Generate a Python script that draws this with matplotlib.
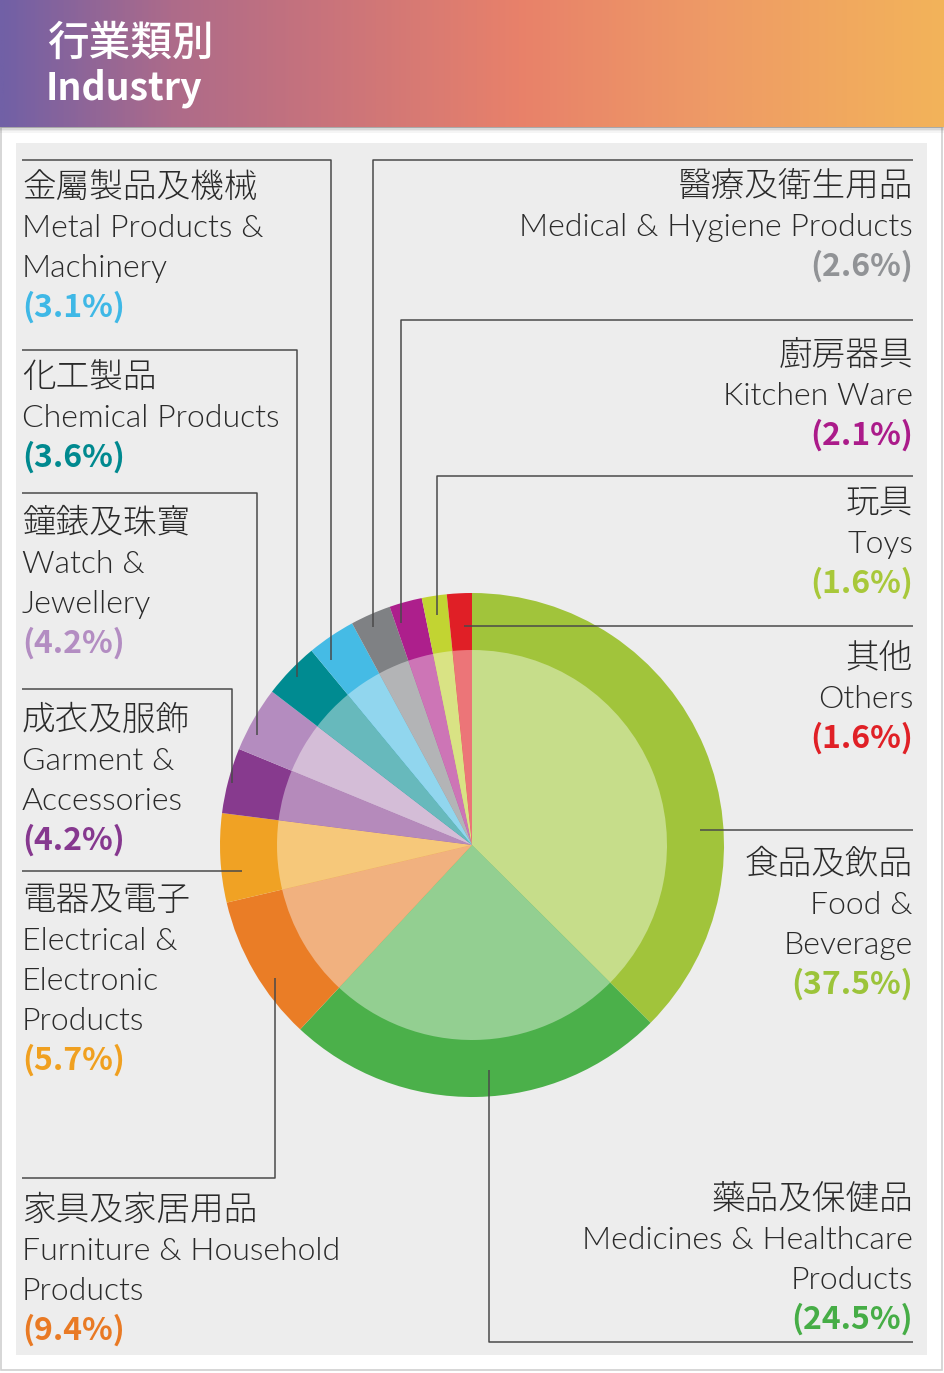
import numpy as np
import matplotlib
matplotlib.use('Agg')
import matplotlib.pyplot as plt
from matplotlib.colors import LinearSegmentedColormap
from matplotlib.patches import Rectangle

plt.rcParams['font.family'] = ['Noto Sans CJK TC', 'DejaVu Sans']
LATIN = ['Lato', 'Noto Sans CJK TC']
CJK_JP = ['Noto Sans CJK JP', 'Noto Sans CJK TC']

W, H = 944, 1373

# data, clockwise from 12 o'clock
names_zh = ['食品及飲品', '藥品及保健品', '家具及家居用品', '電器及電子', '成衣及服飾',
            '鐘錶及珠寶', '化工製品', '金屬製品及機械', '醫療及衛生用品', '廚房器具', '玩具', '其他']
names_en = [['Food &', 'Beverage'], ['Medicines & Healthcare', 'Products'],
            ['Furniture & Household', 'Products'], ['Electrical &', 'Electronic', 'Products'],
            ['Garment &', 'Accessories'], ['Watch &', 'Jewellery'], ['Chemical Products'],
            ['Metal Products &', 'Machinery'], ['Medical & Hygiene Products'], ['Kitchen Ware'],
            ['Toys'], ['Others']]
shares = [37.5, 24.5, 9.4, 5.7, 4.2, 4.2, 3.6, 3.1, 2.6, 2.1, 1.6, 1.6]
outer_colors = ['#a1c43b', '#4bb04a', '#ea7d26', '#f0a224', '#873a8e', '#b48cbf',
                '#008b91', '#45bbe5', '#7f8184', '#ad1f8c', '#c2d432', '#e01f26']
inner_colors = ['#c6dd8a', '#93cf91', '#f1b17f', '#f6c87a', '#b58abb', '#d4bdd7',
                '#67b9bc', '#91d6ee', '#b3b4b6', '#cd75b6', '#d9e384', '#ec7578']
pct_colors = ['#9cc43a', '#46ad46', '#e97a24', '#f0a020', '#86388f', '#b38dc2',
              '#00898f', '#3fb8e6', '#919396', '#ab1b8a', '#a8c83a', '#e02026']

def Y(y):
    return H - y

fig = plt.figure(figsize=(W / 100, H / 100), dpi=100)
ax = fig.add_axes([0, 0, 1, 1])

# header gradient
cmap = LinearSegmentedColormap.from_list('hdr', [(0.0, '#7160a6'), (0.18, '#ad6b8a'),
                                                 (0.34, '#c8737c'), (0.55, '#e8816a'),
                                                 (0.75, '#ee9a66'), (1.0, '#f3b35a')])
grad = np.linspace(0, 1, 400).reshape(1, -1)
ax.imshow(grad, cmap=cmap, aspect='auto', extent=[0, W, Y(127), Y(0)], zorder=2)
for i, a in enumerate([0.35, 0.22, 0.12, 0.06]):
    ax.add_patch(Rectangle((0, Y(128 + i * 1.5)), W, 1.5, color='#555555', alpha=a, lw=0, zorder=2))

# frame and panel
ax.add_patch(Rectangle((1, Y(1370)), W - 3, 1370 - 127, fill=False, ec='#d0d0d0', lw=1.2, zorder=1))
ax.add_patch(Rectangle((16, Y(1355)), 927 - 16, 1355 - 143, color='#ededed', lw=0, zorder=1))

ax.text(47, Y(43), '行業類別', color='white', fontsize=30, fontweight=500, family=CJK_JP,
        va='center', ha='left', zorder=3)
ax.text(46, Y(88), 'Industry', color='white', fontsize=27, fontweight='bold',
        va='center', ha='left', zorder=3)

# pie
cx, cy = 472, Y(845)
ax.pie(shares, radius=252, center=(cx, cy), startangle=90, counterclock=False,
       colors=outer_colors, wedgeprops=dict(linewidth=0, zorder=4))
ax.pie(shares, radius=195, center=(cx, cy), startangle=90, counterclock=False,
       colors=inner_colors, wedgeprops=dict(linewidth=0, zorder=5))

# leader lines
lc = '#4a4a4a'
leaders = [
    [(22, 160), (331, 160), (331, 660)],
    [(22, 350), (297, 350), (297, 677)],
    [(22, 493), (257, 493), (257, 735)],
    [(22, 689), (232, 689), (232, 783)],
    [(22, 871), (242, 871)],
    [(275, 978), (275, 1178), (22, 1178)],
    [(489, 1070), (489, 1342), (913, 1342)],
    [(700, 830), (913, 830)],
    [(464, 626), (913, 626)],
    [(437, 615), (437, 476), (913, 476)],
    [(401, 623), (401, 320), (913, 320)],
    [(373, 627), (373, 160), (913, 160)],
]
for pts in leaders:
    xs = [p[0] for p in pts]
    ys = [Y(p[1]) for p in pts]
    ax.plot(xs, ys, color=lc, lw=1.1, zorder=6, solid_capstyle='butt')

# labels: (x, first baseline, ha)
label_pos = [(913, 874, 'right'), (913, 1209, 'right'), (22, 1220, 'left'),
             (22, 910, 'left'), (22, 730, 'left'), (22, 533, 'left'),
             (22, 387, 'left'), (22, 197, 'left'), (913, 196, 'right'),
             (913, 365, 'right'), (913, 513, 'right'), (913, 668, 'right')]
tc = '#2a2a2a'
for i, (x, b, ha) in enumerate(label_pos):
    ax.text(x, Y(b), names_zh[i], fontsize=24.2, fontweight=300, color=tc,
            family=CJK_JP, ha=ha, va='baseline', zorder=7)
    yy = b
    for line in names_en[i]:
        yy += 40
        ax.text(x, Y(yy), line, fontsize=23, fontweight=300, color=tc,
                family=LATIN, ha=ha, va='baseline', zorder=7)
    yy += 39.5
    ax.text(x, Y(yy), '(%.1f%%)' % shares[i], fontsize=23, fontweight=700,
            family=CJK_JP, color=pct_colors[i], ha=ha, va='baseline', zorder=7)

ax.set_xlim(0, W)
ax.set_ylim(0, H)
ax.set_aspect('auto')
ax.axis('off')

fig.savefig('out.png', dpi=100, facecolor='white')
